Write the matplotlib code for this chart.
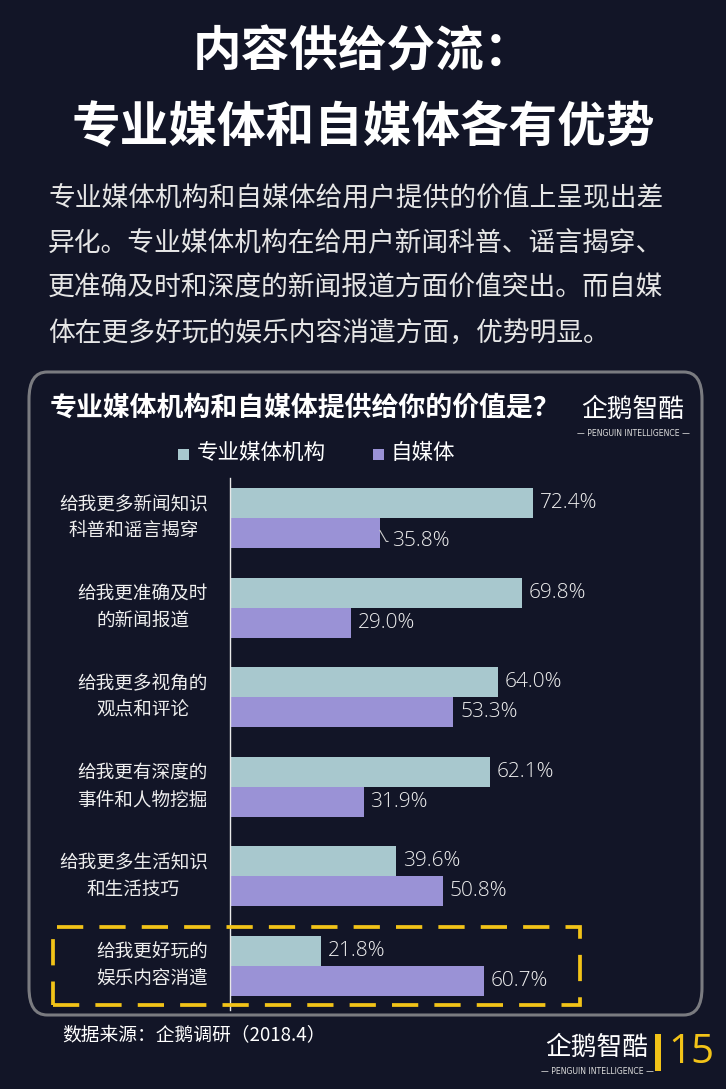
import matplotlib
matplotlib.use("Agg")
import matplotlib.pyplot as plt
from matplotlib.patches import FancyBboxPatch, Rectangle

plt.rcParams['font.family'] = ['Noto Sans CJK SC', 'DejaVu Sans']

categories = ["给我更多新闻知识\n科普和谣言揭穿", "给我更准确及时\n的新闻报道", "给我更多视角的\n观点和评论",
              "给我更有深度的\n事件和人物挖掘", "给我更多生活知识\n和生活技巧", "给我更好玩的\n娱乐内容消遣"]
pro_media = [72.4, 69.8, 64.0, 62.1, 39.6, 21.8]
self_media = [35.8, 29.0, 53.3, 31.9, 50.8, 60.7]
series_names = ["专业媒体机构", "自媒体"]

BG = "#121527"
TEAL = "#A8C8CE"
PURPLE = "#9A92D6"
YELLOW = "#F2C318"
W, H = 726, 1089
NUMFONT = ["Open Sans", "DejaVu Sans"]

fig = plt.figure(figsize=(W / 100, H / 100), dpi=100, facecolor=BG)

def fx(x):
    return x / W

def fy(y):
    return 1 - y / H

# Titles
fig.text(0.5, fy(52), "内容供给分流：", ha="center", va="center", color="white", fontsize=35, fontweight="bold")
fig.text(0.5, fy(127), "专业媒体和自媒体各有优势", ha="center", va="center", color="white", fontsize=35, fontweight="bold")

para = ["专业媒体机构和自媒体给用户提供的价值上呈现出差",
        "异化。专业媒体机构在给用户新闻科普、谣言揭穿、",
        "更准确及时和深度的新闻报道方面价值突出。而自媒",
        "体在更多好玩的娱乐内容消遣方面，优势明显。"]
for i, line in enumerate(para):
    fig.text(fx(48), fy(199 + i * 44.7), line, ha="left", va="center", color="#E6E6E6", fontsize=19.3)

# Chart box
box = FancyBboxPatch((fx(29), fy(1015)), fx(702) - fx(29), fy(372) - fy(1015),
                     boxstyle="round,pad=0,rounding_size=0.025", transform=fig.transFigure,
                     facecolor="none", edgecolor="#7A7B80", linewidth=2.2)
fig.patches.append(box)

fig.text(fx(50), fy(408), "专业媒体机构和自媒体提供给你的价值是？", ha="left", va="center",
         color="white", fontsize=19.4, fontweight="bold")

# Logos
def logo(cx, cy, size):
    fig.text(fx(cx), fy(cy), "企鹅智酷", ha="center", va="center", color="white", fontsize=size)
    fig.text(fx(cx), fy(cy + size * 1.25), "— PENGUIN INTELLIGENCE —", ha="center", va="center",
             color="#DDDDDD", fontsize=size * 0.3, family="DejaVu Sans")

logo(633, 410, 18.5)
logo(597, 1048, 18.5)

# Legend
fig.patches.append(Rectangle((fx(178), fy(460)), fx(11), fy(0) - fy(11), transform=fig.transFigure,
                             facecolor=TEAL, edgecolor="none"))
fig.text(fx(197), fy(453), series_names[0], ha="left", va="center", color="white", fontsize=15.5)
fig.patches.append(Rectangle((fx(373), fy(460)), fx(11), fy(0) - fy(11), transform=fig.transFigure,
                             facecolor=PURPLE, edgecolor="none"))
fig.text(fx(391), fy(453), series_names[1], ha="left", va="center", color="white", fontsize=15.5)

# Axes
ax_left, ax_right, ax_top, ax_bot = 230, 700, 478, 1010
ax = fig.add_axes([fx(ax_left), fy(ax_bot), fx(ax_right - ax_left), fy(ax_top) - fy(ax_bot)])
ax.set_facecolor("none")
px_per_unit = 303 / 72.4
ax.set_xlim(0, (ax_right - ax_left) / px_per_unit)
grp = 89.6
ax.set_ylim(5 + (ax_bot - 966) / grp, -(518 - ax_top) / grp)
bh = 30 / grp
y = list(range(len(categories)))
ax.barh([v - bh / 2 for v in y], pro_media, height=bh, color=TEAL)
ax.barh([v + bh / 2 for v in y], self_media, height=bh, color=PURPLE)
for s in ["top", "right", "bottom"]:
    ax.spines[s].set_visible(False)
ax.spines["left"].set_color("#E8E8E8")
ax.spines["left"].set_linewidth(1)
ax.set_xticks([])
ax.set_yticks([])

for i, (p, s) in enumerate(zip(pro_media, self_media)):
    ax.annotate(f"{p:.1f}%", (p, i - bh / 2), xytext=(5, 0), textcoords="offset points",
                ha="left", va="center", color="#EEEEEE", fontsize=15, family=NUMFONT, fontweight="light")
    if i == 0:
        ax.annotate(f"{s:.1f}%", (s, i + bh / 2 - 0.03), xytext=(9, -8), textcoords="offset points",
                    ha="left", va="center", color="#EEEEEE", fontsize=15, family=NUMFONT, fontweight="light",
                    arrowprops=dict(arrowstyle="-", color="#CCCCCC", lw=0.8, shrinkA=1, shrinkB=0,
                                    relpos=(0, 0.5),
                                    connectionstyle="angle,angleA=0,angleB=-60,rad=0"))
    else:
        ax.annotate(f"{s:.1f}%", (s, i + bh / 2), xytext=(5, 0), textcoords="offset points",
                    ha="left", va="center", color="#EEEEEE", fontsize=15, family=NUMFONT, fontweight="light")
    ax.text(-22 / (ax_right - ax_left), i, categories[i], transform=ax.get_yaxis_transform(),
            ha="right", va="center", multialignment="center", color="#EEEEEE", fontsize=13.4, linespacing=1.62)

# Dashed highlight box
hl = Rectangle((fx(53), fy(1005)), fx(580 - 53), fy(927) - fy(1005), transform=fig.transFigure,
               facecolor="none", edgecolor=YELLOW, linewidth=2.7, linestyle=(0, (7, 4.3)))
fig.patches.append(hl)

# Footer
fig.text(fx(62), fy(1036), "数据来源：企鹅调研（2018.4）", ha="left", va="center", color="white", fontsize=13.5)
fig.patches.append(Rectangle((fx(655), fy(1071)), fx(6), fy(1034) - fy(1071), transform=fig.transFigure,
                             facecolor=YELLOW, edgecolor="none"))
fig.text(fx(668), fy(1053), "15", ha="left", va="center", color=YELLOW, fontsize=29, family=NUMFONT)

fig.savefig("out.png", dpi=100, facecolor=BG)
